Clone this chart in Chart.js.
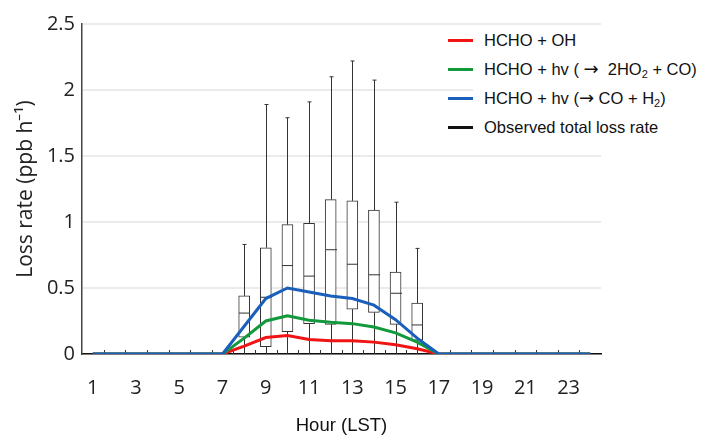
<!DOCTYPE html>
<html>
<head>
<meta charset="utf-8">
<script src="https://cdn.jsdelivr.net/npm/chart.js@4.4.1/dist/chart.umd.min.js"></script>
<style>
  html, body { margin: 0; padding: 0; background: #fff; }
  #wrap { position: relative; width: 701px; height: 435px; }
  #legend {
    position: absolute; left: 448px; top: 26px;
    font-family: "Liberation Sans", Arial, sans-serif; font-size: 16.5px; color: #111;
  }
  .row { height: 29px; display: flex; align-items: center; }
  .sw { width: 25px; height: 3px; }
  .txt { background: #fff; height: 29px; line-height: 29px; padding-left: 11px; padding-right: 6px; white-space: nowrap; }
  .txt sub { font-size: 11px; line-height: 0; vertical-align: -3px; }
  .arr { font-family: "DejaVu Sans", sans-serif; font-size: 18px; line-height: 0; }
</style>
</head>
<body>
<div id="wrap">
  <canvas id="lossChart" width="701" height="435"></canvas>
  <div id="legend">
    <div class="row"><span class="sw" style="background:#f01414"></span><span class="txt">HCHO + OH</span></div>
    <div class="row"><span class="sw" style="background:#12993c"></span><span class="txt">HCHO + hv ( <span class="arr">&rarr;</span>&nbsp; 2HO<sub>2</sub> + CO)</span></div>
    <div class="row"><span class="sw" style="background:#1a5fbb"></span><span class="txt">HCHO + hv (<span class="arr">&rarr;</span> CO + H<sub>2</sub>)</span></div>
    <div class="row"><span class="sw" style="background:#111"></span><span class="txt">Observed total loss rate</span></div>
  </div>
</div>
<script>
document.addEventListener("DOMContentLoaded", function() {

// hours of the day (LST)
var hours = [1, 2, 3, 4, 5, 6, 7, 8, 9, 10, 11, 12, 13, 14, 15, 16, 17, 18, 19, 20, 21, 22, 23, 24];
var shownHours = [1, 3, 5, 7, 9, 11, 13, 15, 17, 19, 21, 23];

// modelled loss rates (ppb h-1)
var ohLoss  = [0, 0, 0, 0, 0, 0, 0, 0.06, 0.125, 0.14, 0.11, 0.10, 0.10, 0.09, 0.07, 0.04, 0, 0, 0, 0, 0, 0, 0, 0];
var ho2Loss = [0, 0, 0, 0, 0, 0, 0, 0.12, 0.25, 0.29, 0.255, 0.24, 0.23, 0.205, 0.16, 0.09, 0, 0, 0, 0, 0, 0, 0, 0];
var h2Loss  = [0, 0, 0, 0, 0, 0, 0, 0.21, 0.42, 0.50, 0.47, 0.44, 0.42, 0.37, 0.26, 0.12, 0, 0, 0, 0, 0, 0, 0, 0];

// observed total loss rate, box plot stats
var boxQ1      = [null, null, null, null, null, null, null, 0.127, 0.055, 0.17, 0.23, 0.225, 0.34, 0.315, 0.225, 0.104, null, null, null, null, null, null, null, null];
var boxMedian  = [null, null, null, null, null, null, null, 0.31, 0.43, 0.67, 0.59, 0.79, 0.68, 0.60, 0.46, 0.22, null, null, null, null, null, null, null, null];
var boxQ3      = [null, null, null, null, null, null, null, 0.44, 0.805, 0.98, 0.99, 1.17, 1.16, 1.09, 0.62, 0.385, null, null, null, null, null, null, null, null];
var whiskerMax = [null, null, null, null, null, null, null, 0.83, 1.89, 1.79, 1.91, 2.10, 2.22, 2.075, 1.15, 0.80, null, null, null, null, null, null, null, null];
var whiskerMin = [null, null, null, null, null, null, null, 0, 0, 0, 0, 0, 0, 0, 0, 0, null, null, null, null, null, null, null, null];

var boxData = boxQ1.map(function(q, i) {
    return q === null ? null : [q, boxQ3[i]];
});

// whiskers + medians drawn right after the boxes
var whiskerPlugin = {
    id: 'whiskers',
    afterDatasetDraw: function(chart, args) {
        if (args.index !== 0) return;
        var ctx = chart.ctx;
        var x = chart.scales.x, y = chart.scales.y;
        ctx.save();
        ctx.strokeStyle = '#333';
        ctx.lineWidth = 1;
        for (var i = 0; i < hours.length; i++) {
            if (boxQ1[i] === null) continue;
            var px = Math.round(x.getPixelForValue(i)) + 0.5;
            ctx.beginPath();
            ctx.moveTo(px, y.getPixelForValue(boxQ3[i]));
            ctx.lineTo(px, y.getPixelForValue(whiskerMax[i]));
            ctx.moveTo(px - 2, y.getPixelForValue(whiskerMax[i]));
            ctx.lineTo(px + 2, y.getPixelForValue(whiskerMax[i]));
            ctx.moveTo(px, y.getPixelForValue(boxQ1[i]));
            ctx.lineTo(px, y.getPixelForValue(whiskerMin[i]));
            ctx.moveTo(px - 5.5, y.getPixelForValue(boxMedian[i]));
            ctx.lineTo(px + 5.5, y.getPixelForValue(boxMedian[i]));
            ctx.stroke();
        }
        // small inward ticks on the x axis between hours
        var step = x.getPixelForValue(1) - x.getPixelForValue(0);
        var base = y.getPixelForValue(0);
        ctx.beginPath();
        for (var j = 1; j < hours.length; j++) {
            var tx = Math.round(x.getPixelForValue(j) - step / 2) + 0.5;
            ctx.moveTo(tx, base);
            ctx.lineTo(tx, base - 4);
        }
        ctx.stroke();
        ctx.restore();
    }
};

var ctx = document.getElementById('lossChart').getContext('2d');

var lossChart = new Chart(ctx, {
    data: {
        labels: hours,
        datasets: [{
            type: 'bar',
            label: 'Observed total loss rate',
            data: boxData,
            backgroundColor: '#fff',
            borderColor: '#333',
            borderWidth: 1,
            borderSkipped: false,
            barThickness: 11,
            order: 4
        }, {
            type: 'line',
            label: 'HCHO + OH',
            data: ohLoss,
            borderColor: '#f01414',
            borderWidth: 3,
            pointRadius: 0,
            tension: 0,
            order: 3
        }, {
            type: 'line',
            label: 'HCHO + hv (-> 2HO2 + CO)',
            data: ho2Loss,
            borderColor: '#12993c',
            borderWidth: 3,
            pointRadius: 0,
            tension: 0,
            order: 2
        }, {
            type: 'line',
            label: 'HCHO + hv (-> CO + H2)',
            data: h2Loss,
            borderColor: '#1a5fbb',
            borderWidth: 3,
            pointRadius: 0,
            tension: 0,
            order: 1
        }]
    },
    options: {
        responsive: false,
        animation: false,
        devicePixelRatio: 1,
        layout: { padding: { left: 0, right: 100, top: 24, bottom: 0 } },
        plugins: {
            legend: { display: false },
            tooltip: { enabled: false }
        },
        scales: {
            x: {
                type: 'category',
                offset: true,
                grid: { display: false, drawTicks: false },
                border: { display: true, color: '#111', width: 1.5 },
                ticks: {
                    autoSkip: false,
                    maxRotation: 0,
                    padding: 22,
                    color: '#222',
                    font: { family: '"Open Sans", sans-serif', size: 20 },
                    callback: function(val, index) {
                        return shownHours.indexOf(hours[index]) >= 0 ? String(hours[index]) : '';
                    }
                },
                title: {
                    display: true,
                    text: 'Hour (LST)',
                    color: '#111',
                    font: { family: '"Liberation Sans", Arial, sans-serif', size: 18.5, lineHeight: 1 },
                    padding: { top: 0, bottom: 0 }
                },
                afterFit: function(scale) { scale.height = 81; }
            },
            y: {
                min: 0,
                max: 2.5,
                grid: { color: '#ebebeb', lineWidth: 2, drawTicks: false },
                border: { display: true, color: '#444', width: 1.5 },
                ticks: {
                    stepSize: 0.5,
                    padding: 7,
                    color: '#222',
                    font: { family: '"Open Sans", sans-serif', size: 20 },
                    callback: function(val) { return String(Number(val)); }
                },
                title: {
                    display: true,
                    text: 'Loss rate (ppb h\u207B\u00B9)',
                    color: '#222',
                    font: { family: '"Open Sans", sans-serif', size: 21 },
                    padding: { top: 13, bottom: 0 }
                },
                afterFit: function(scale) { scale.width = 82; }
            }
        }
    },
    plugins: [whiskerPlugin]
});

});
</script>
</body>
</html>
